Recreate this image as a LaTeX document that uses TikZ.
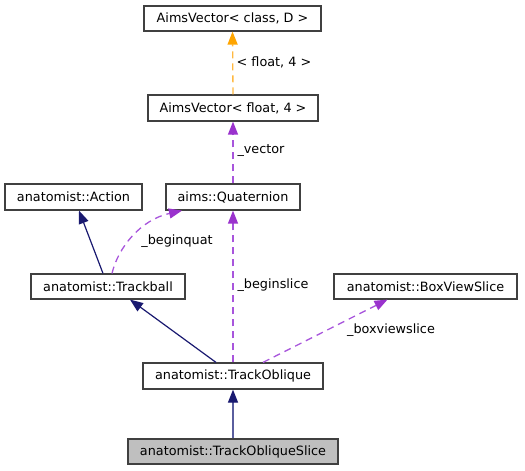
\documentclass[tikz,border=0pt]{standalone}
\usepackage{fontspec}
\setmainfont{DejaVu Sans}
\usetikzlibrary{arrows.meta,calc}
\definecolor{inh}{HTML}{191970}
\definecolor{inhl}{HTML}{5A5E9E}
\definecolor{use}{HTML}{9A32CD}
\definecolor{usel}{HTML}{A855DC}
\definecolor{tmpl}{HTML}{FFA500}
\definecolor{tmpll}{HTML}{FFB840}
\definecolor{bord}{HTML}{404040}
\begin{document}
\begin{tikzpicture}[x=1pt,y=-1pt,
  cls/.style={draw=bord,line width=1.2pt,fill=white,inner sep=0pt,font=\fontsize{12.8}{15}\selectfont,text=black},
  lbl/.style={inner sep=0pt,font=\fontsize{12.8}{15}\selectfont,text=black},
  inhe/.style={-{Triangle[length=13pt,width=10pt]},draw=inh,line width=1.2pt},
  usee/.style={-{Triangle[length=13pt,width=10pt,color=use]},draw=usel,line width=1.3pt,dash pattern=on 7pt off 5pt},
  tmpe/.style={-{Triangle[length=13pt,width=10pt,color=tmpl]},draw=tmpll,line width=1.3pt,dash pattern=on 7pt off 5pt}]
\useasboundingbox (0,0) rectangle (525,471);
\node[cls,minimum width=177pt,minimum height=25pt] (avc) at (232.5,18.5) {AimsVector< class, D >};
\node[cls,minimum width=170pt,minimum height=26pt] (avf) at (233,108) {AimsVector< float, 4 >};
\node[cls,minimum width=137pt,minimum height=26pt] (act) at (73.5,197) {anatomist::Action};
\node[cls,minimum width=134pt,minimum height=26pt] (quat) at (233,197) {aims::Quaternion};
\node[cls,minimum width=154pt,minimum height=25pt] (tb) at (108,286.5) {anatomist::Trackball};
\node[cls,minimum width=183pt,minimum height=25pt] (bvs) at (425.5,286.5) {anatomist::BoxViewSlice};
\node[cls,minimum width=180pt,minimum height=26pt] (to) at (233,376) {anatomist::TrackOblique};
\node[cls,minimum width=210pt,minimum height=25pt,fill=black!25] (tos) at (233,451.5) {anatomist::TrackObliqueSlice};

\draw[tmpe] (avf.north) -- (avc.south);
\node[lbl] (l1) at (274,62) {< float, 4 >};
\draw[usee] (quat.north) -- (avf.south);
\node[lbl] (l2) at (261,151) {\_vector};
\draw[inhe] ([xshift=-5pt]tb.north) -- ([xshift=5.5pt]act.south);
\draw[usee] ([xshift=4pt]tb.north) .. controls (118,248) and (140,220) .. ([xshift=-51pt]quat.south);
\node[lbl] (l3) at (177,241) {\_beginquat};
\draw[inhe] ([xshift=-17pt]to.north) -- ([xshift=22pt]tb.south);
\draw[usee] (to.north) -- (quat.south);
\node[lbl] (l4) at (273,285) {\_beginslice};
\draw[usee] ([xshift=30pt]to.north) -- ([xshift=-38pt]bvs.south);
\node[lbl] (l5) at (391,330) {\_boxviewslice};
\draw[-{Triangle[length=13pt,width=10pt,color=inh]},draw=inhl,line width=1.2pt] (tos.north) -- (to.south);
\end{tikzpicture}
\end{document}
